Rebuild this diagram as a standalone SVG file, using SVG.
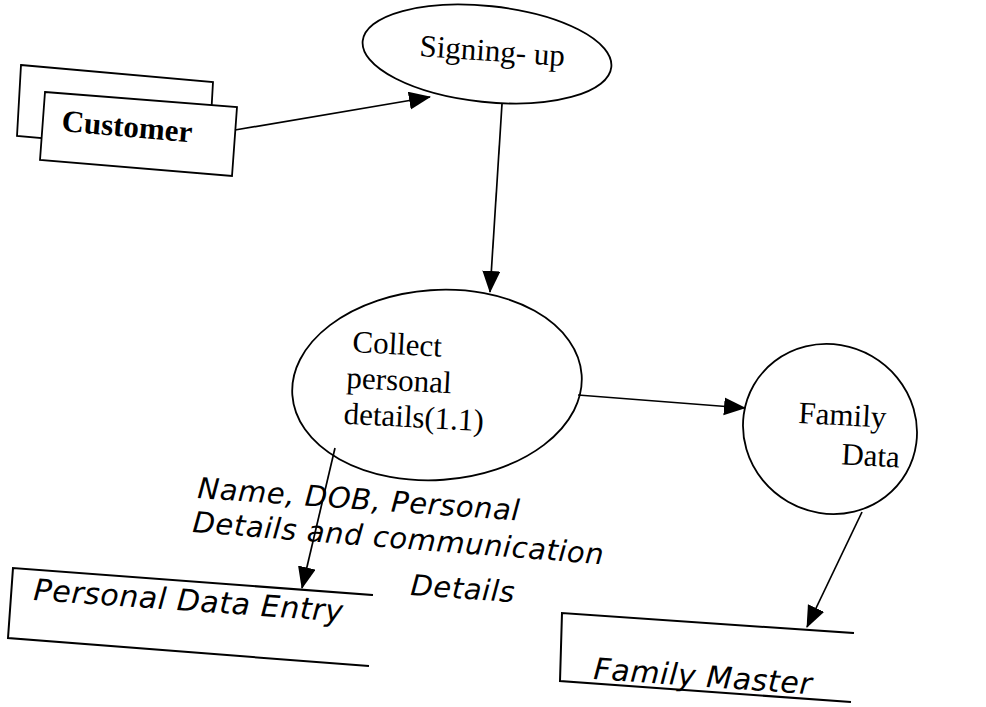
<svg xmlns="http://www.w3.org/2000/svg" width="986" height="707" viewBox="0 0 986 707">
  <style>
    .shape { fill: #ffffff; stroke: #000000; stroke-width: 1.8; }
    .store { fill: none; stroke: #000000; stroke-width: 2; stroke-linecap: square; }
    .flow { fill: none; stroke: #000000; stroke-width: 1.7; }
    .proc { font-family: "Liberation Serif", "Times New Roman", serif; font-size: 31px; fill: #000000; }
    .ent { font-family: "Liberation Serif", "Times New Roman", serif; font-size: 31px; font-weight: bold; fill: #000000; }
    .lbl { font-family: "DejaVu Sans", Verdana, sans-serif; font-style: italic; font-size: 29px; letter-spacing: 0.6px; fill: #000000; }
  </style>
  <defs>
    <marker id="arrow" markerUnits="userSpaceOnUse" markerWidth="24" markerHeight="20" refX="21" refY="9" orient="auto">
      <path d="M0,0 L22,9 L0,18 Z" fill="#000000"/>
    </marker>
  </defs>
  <rect width="986" height="707" fill="#ffffff"/>

  <!-- External entity: Customer (stacked boxes) -->
  <g id="customer">
    <polygon class="shape" points="21,65 213,82 209,153 17,136"/>
    <polygon class="shape" points="45,92 237,107 232,176 40,160"/>
    <text class="ent" x="61" y="131" transform="rotate(5 61 131)">Customer</text>
  </g>

  <!-- Process: Signing-up -->
  <g id="signing-up">
    <ellipse class="shape" cx="487" cy="54" rx="125" ry="48" transform="rotate(6 487 54)"/>
    <text class="proc" x="419" y="56" transform="rotate(4 419 56)">Signing- up</text>
  </g>

  <!-- Process: Collect personal details (1.1) -->
  <g id="collect-details">
    <ellipse class="shape" cx="437" cy="385" rx="145" ry="95" transform="rotate(-4 437 385)"/>
    <g transform="rotate(3 352 352)">
      <text class="proc" x="352" y="352">Collect</text>
      <text class="proc" x="348" y="388">personal</text>
      <text class="proc" x="347" y="424">details(1.1)</text>
    </g>
  </g>

  <!-- Process: Family Data -->
  <g id="family-data">
    <ellipse class="shape" cx="830" cy="429" rx="88" ry="84" transform="rotate(30 830 429)"/>
    <g transform="rotate(3 798 423)">
      <text class="proc" x="798" y="423">Family</text>
      <text class="proc" x="843" y="462">Data</text>
    </g>
  </g>

  <!-- Data store: Personal Data Entry -->
  <g id="personal-data-entry">
    <polyline class="store" points="372,595 13,568 8,638 368,666"/>
    <text class="lbl" x="33" y="600" transform="rotate(4 33 600)" style="font-size:30px">Personal Data Entry</text>
  </g>

  <!-- Data store: Family Master -->
  <g id="family-master">
    <polyline class="store" points="853,633 562,613 560,681 850,702"/>
    <text class="lbl" x="593" y="679" transform="rotate(4 593 679)" style="font-size:30px">Family Master</text>
  </g>

  <!-- Data flows -->
  <g id="connectors">
    <line class="flow" x1="235" y1="130" x2="430" y2="97" marker-end="url(#arrow)"/>
    <line class="flow" x1="502" y1="104" x2="490" y2="292" marker-end="url(#arrow)"/>
    <line class="flow" x1="578" y1="395" x2="745" y2="408" marker-end="url(#arrow)"/>
    <line class="flow" x1="335" y1="448" x2="302" y2="588" marker-end="url(#arrow)"/>
    <line class="flow" x1="862" y1="512" x2="807" y2="627" marker-end="url(#arrow)"/>
    <g id="flow-label">
      <text class="lbl" x="197" y="498" transform="rotate(4 197 498)">Name, DOB, Personal</text>
      <text class="lbl" x="192" y="532" transform="rotate(4.5 192 532)">Details and communication</text>
      <text class="lbl" x="410" y="595" transform="rotate(4 410 595)">Details</text>
    </g>
  </g>
</svg>
